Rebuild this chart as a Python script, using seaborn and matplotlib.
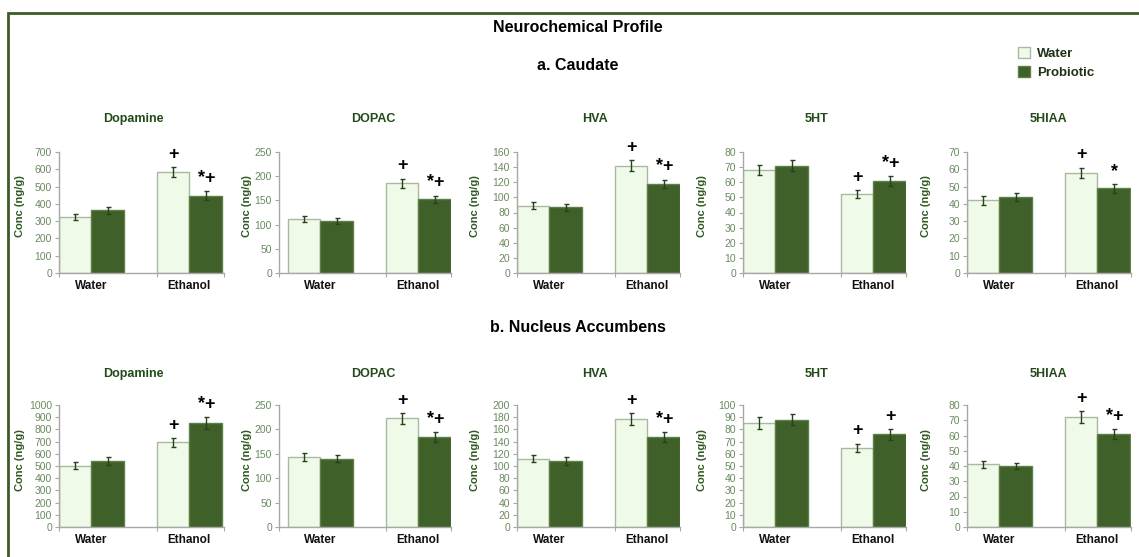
import numpy as np
import pandas as pd
import seaborn as sns
import matplotlib
matplotlib.use("Agg")
import matplotlib.pyplot as plt
from matplotlib.patches import Rectangle

# ---------------- data ----------------
analytes = ["Dopamine", "DOPAC", "HVA", "5HT", "5HIAA"]
groups = ["Water", "Ethanol"]
treatments = ["Water", "Probiotic"]
regions = ["a. Caudate", "b. Nucleus Accumbens"]

# order of values: [Water/Water, Water/Probiotic, Ethanol/Water, Ethanol/Probiotic]
caudate_dopamine = [324, 362, 584, 448]
caudate_dopac = [112, 108, 185, 152]
caudate_hva = [89, 87, 142, 118]
caudate_5ht = [68, 71, 52, 61]
caudate_5hiaa = [42, 44, 58, 49]

caudate_dopamine_err = [18, 22, 30, 24]
caudate_dopac_err = [6, 6, 10, 8]
caudate_hva_err = [4.4, 4.4, 7.5, 5.5]
caudate_5ht_err = [3.5, 3.5, 2.7, 3.2]
caudate_5hiaa_err = [2.4, 2.4, 3.0, 2.6]

nacc_dopamine = [504, 540, 694, 851]
nacc_dopac = [144, 140, 223, 185]
nacc_hva = [112, 108, 177, 147]
nacc_5ht = [85, 88, 65, 76]
nacc_5hiaa = [41, 40, 72, 61]

nacc_dopamine_err = [30, 33, 38, 48]
nacc_dopac_err = [8, 7.5, 11, 10]
nacc_hva_err = [6, 6, 9.5, 8]
nacc_5ht_err = [4.8, 4.8, 3.4, 4.5]
nacc_5hiaa_err = [2, 2, 3.8, 3.3]

# significance marks over the Ethanol bars: [Water, Probiotic]
caudate_marks = [["+", "*+"], ["+", "*+"], ["+", "*+"], ["+", "*+"], ["+", "*"]]
nacc_marks = [["+", "*+"], ["+", "*+"], ["+", "*+"], ["+", "+"], ["+", "*+"]]

caudate_ymax = [700, 250, 160, 80, 70]
caudate_ystep = [100, 50, 20, 10, 10]
nacc_ymax = [1000, 250, 200, 100, 80]
nacc_ystep = [100, 50, 20, 10, 10]

values = [[caudate_dopamine, caudate_dopac, caudate_hva, caudate_5ht, caudate_5hiaa],
          [nacc_dopamine, nacc_dopac, nacc_hva, nacc_5ht, nacc_5hiaa]]
errors = [[caudate_dopamine_err, caudate_dopac_err, caudate_hva_err, caudate_5ht_err, caudate_5hiaa_err],
          [nacc_dopamine_err, nacc_dopac_err, nacc_hva_err, nacc_5ht_err, nacc_5hiaa_err]]
marks = [caudate_marks, nacc_marks]
ymaxes = [caudate_ymax, nacc_ymax]
ysteps = [caudate_ystep, nacc_ystep]

# ---------------- style ----------------
sns.set_theme(style="white")
plt.rcParams["font.family"] = ["Liberation Sans", "DejaVu Sans"]

LIGHT = "#F0FAE8"
LIGHT_EDGE = "#A9B8A0"
DARK = "#3F6129"
DARK_EDGE = "#5E8048"
TITLE_C = "#234A18"
TICK_C = "#6A8A60"
SPINE_C = "#A8A8A8"
ERR_C = "#24431A"

W, H = 1139, 557
fig = plt.figure(figsize=(W / 100, H / 100), dpi=100)
fig.patch.set_facecolor("white")

lefts = [59, 279, 517, 743, 967]
widths = [165, 172, 163, 163, 164]
extra_left = [0, 9, 0, 0, 0]
row_top = [152, 405]
row_bot = [273, 527]
title_x = [133, 373, 595, 817, 1048]
title_y = [119, 374]
ylabel_x = [25, 252, 480, 707, 931]

half = 0.33  # group half width in category units
px_per_unit = 98.0

legend_handles = None
for r in range(2):
    for i in range(5):
        x0 = lefts[i]
        ax = fig.add_axes([x0 / W, 1 - row_bot[r] / H, widths[i] / W,
                           (row_bot[r] - row_top[r]) / H])
        vals = values[r][i]
        df = pd.DataFrame({
            "group": ["Water", "Water", "Ethanol", "Ethanol"],
            "treatment": ["Water", "Probiotic", "Water", "Probiotic"],
            "value": vals,
        })
        sns.barplot(data=df, x="group", y="value", hue="treatment",
                    order=groups, hue_order=treatments,
                    palette=[LIGHT, DARK], width=2 * half, gap=0,
                    errorbar=None, legend=False, ax=ax,
                    linewidth=1.0, saturation=1)
        bars = sorted(ax.patches, key=lambda p: p.get_x())
        for k, p in enumerate(bars):
            if k % 2 == 0:
                p.set_edgecolor(LIGHT_EDGE)
            else:
                p.set_edgecolor(DARK_EDGE)
        if legend_handles is None:
            legend_handles = [bars[0], bars[1]]
        xs = [p.get_x() + p.get_width() / 2 for p in bars]
        hs = [p.get_height() for p in bars]
        errs = errors[r][i]
        ax.errorbar(xs, hs, yerr=errs, fmt="none", ecolor=ERR_C,
                    elinewidth=1.0, capsize=1.8, capthick=1.0, zorder=5)
        for j, m in enumerate(marks[r][i]):
            k = 2 + j
            ax.annotate(m, xy=(xs[k], hs[k] + errs[k]), xytext=(1 if j else 0, 3),
                        textcoords="offset points", ha="center", va="bottom",
                        fontsize=13, fontweight="bold", color="black")

        ymax = ymaxes[r][i]
        ax.set_ylim(0, ymax)
        ax.set_yticks(np.arange(0, ymax + 1, ysteps[r][i]))
        left_lim = -half - extra_left[i] / px_per_unit
        right_lim = left_lim + widths[i] / px_per_unit
        ax.set_xlim(left_lim, right_lim)
        ax.set_facecolor("white")
        for s in ["top", "right"]:
            ax.spines[s].set_visible(False)
        for s in ["left", "bottom"]:
            ax.spines[s].set_color(SPINE_C)
            ax.spines[s].set_linewidth(1.0)
        ax.tick_params(axis="y", which="major", direction="out", length=3,
                       width=0.8, color=SPINE_C, labelsize=7.5,
                       labelcolor=TICK_C, pad=2, left=True)
        ax.tick_params(axis="x", which="major", length=0, pad=5,
                       labelsize=8.5, labelcolor="#111111")
        for lab in ax.get_xticklabels():
            lab.set_fontweight("bold")
        ax.set_xticks([left_lim, 0.67, right_lim], minor=True)
        ax.tick_params(axis="x", which="minor", direction="out", length=3,
                       width=0.8, color=SPINE_C, bottom=True)
        ax.set_xlabel("")
        ax.set_ylabel("Conc (ng/g)", fontsize=8, fontweight="bold",
                      color="#2E5A22")
        ax.yaxis.set_label_coords((ylabel_x[i] - x0) / widths[i], 0.55)
        ax.grid(False)
        fig.text(title_x[i] / W, 1 - title_y[r] / H, analytes[i],
                 ha="center", va="center", fontsize=9, fontweight="bold",
                 color=TITLE_C)

fig.text(578 / W, 1 - 28 / H, "Neurochemical Profile", ha="center",
         va="center", fontsize=11.5, fontweight="bold", color="black")
fig.text(578 / W, 1 - 65 / H, regions[0], ha="center", va="center",
         fontsize=11.5, fontweight="bold", color="black")
fig.text(578 / W, 1 - 328 / H, regions[1], ha="center", va="center",
         fontsize=11.5, fontweight="bold", color="black")

leg = fig.legend(legend_handles, treatments, loc="upper left",
                 bbox_to_anchor=(1018 / W, 1 - 47 / H), frameon=False,
                 handlelength=0.9, handleheight=0.9, handletextpad=0.55,
                 labelspacing=0.45, borderaxespad=0, borderpad=0,
                 prop=dict(weight="bold", size=9.5))
for t in leg.get_texts():
    t.set_color("#1E3214")

border = Rectangle((8 / W, -0.05), 1.2, 1 - 13 / H + 0.05,
                   transform=fig.transFigure, fill=False, linewidth=2,
                   edgecolor="#3D5C26", clip_on=False)
fig.add_artist(border)

fig.savefig("out.png", dpi=100, facecolor="white")
